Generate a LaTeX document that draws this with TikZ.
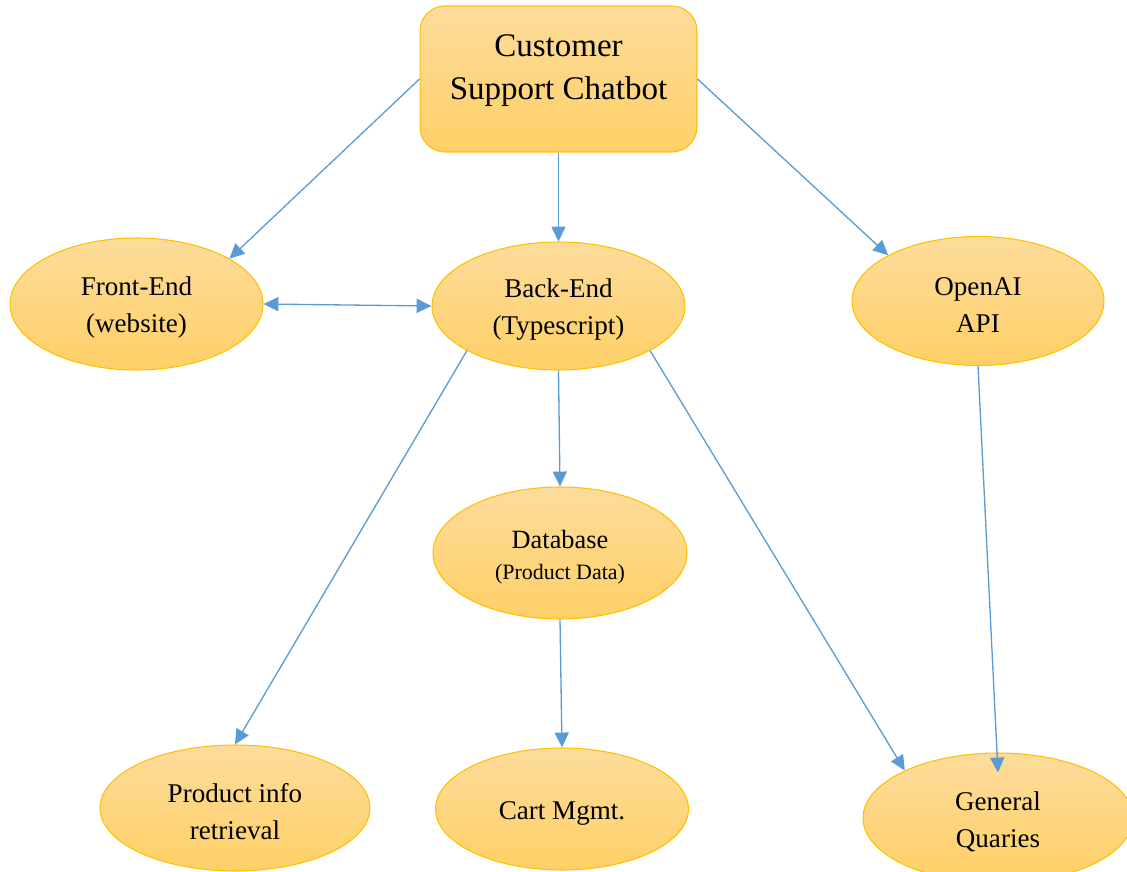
\documentclass[tikz,border=0pt]{standalone}
\usepackage{fontspec}
\setmainfont{Liberation Serif}
\usetikzlibrary{arrows.meta,shapes.geometric}
\definecolor{linkblue}{HTML}{5B9BD5}
\definecolor{boxrim}{HTML}{FFC000}
\definecolor{boxtop}{HTML}{FDDC9C}
\definecolor{boxbot}{HTML}{FFD066}
\newcommand{\toppad}{\rule{0pt}{15pt}}

\tikzset{
	part/.style={ellipse, draw=boxrim, line width=0.6pt, top color=boxtop, bottom color=boxbot, inner sep=0pt, align=center, font=\fontsize{15.4}{21}\selectfont},
	link/.style={draw=linkblue, line width=0.75pt, -{Triangle[length=8.5pt,width=8pt]}},
}

\begin{document}
\begin{tikzpicture}[x=0.02cm, y=-0.02cm]
				\useasboundingbox (0, 0) rectangle (1127, 872);
				
				\node[draw=boxrim, line width=0.6pt, top color=boxtop, bottom color=boxbot, rounded corners=0.5cm, minimum width=5.54cm, minimum height=2.92cm] (bot) at (558.5, 79) {};
				\node[align=center, font=\fontsize{18.8}{24.4}\selectfont] (bottext) at (558.5, 71) {Customer\\Support Chatbot};
				
				\node[part, minimum width=5.06cm, minimum height=2.64cm] (front) at (136.5, 304) {\toppad Front-End\\(website)};
				\node[part, minimum width=5.06cm, minimum height=2.56cm] (back) at (558.5, 306) {\toppad Back-End\\(Typescript)};
				\node[part, minimum width=5.04cm, minimum height=2.58cm] (open) at (978, 301) {\toppad OpenAI\\API};
				\node[part, minimum width=5.08cm, minimum height=2.64cm, font=\fontsize{15}{18}\selectfont] (db) at (560, 553) {\toppad Database\\{\fontsize{12.5}{18}\selectfont (Product Data)}};
				\node[part, minimum width=5.4cm, minimum height=2.52cm] (prod) at (235, 808) {\toppad Product info\\retrieval};
				\node[part, minimum width=5.06cm, minimum height=2.44cm] (cart) at (562, 809) {\toppad Cart Mgmt.};
				\node[part, minimum width=5.4cm, minimum height=2.6cm] (gen) at (998, 818) {\toppad General\\Quaries};
				\coordinate (gentip) at ([yshift=-0.4cm]gen.north);
				
				\draw[link] (bot.west) -- (front.26);
				\draw[link] (bot.south) -- (back.north);
				\draw[link] (bot.east) -- (open.153);
				\draw[link, {Triangle[length=8.5pt,width=8pt]}-{Triangle[length=8.5pt,width=8pt]}] (front.east) -- (back.west);
				\draw[link] (back.206) -- (prod.north);
				\draw[link] (back.south) -- (db.north);
				\draw[link] (back.334) -- (gen.153);
				\draw[link] (open.south) -- (gentip);
				\draw[link] (db.south) -- (cart.north);
			\end{tikzpicture}
\end{document}
